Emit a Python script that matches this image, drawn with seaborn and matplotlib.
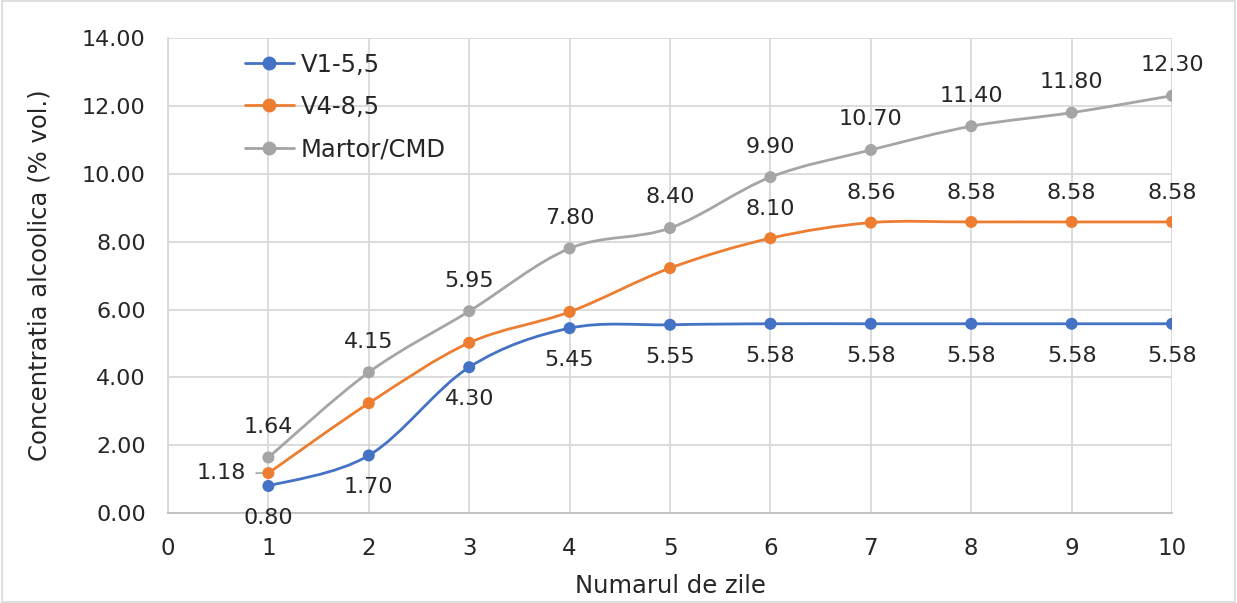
import numpy as np
import pandas as pd
import matplotlib
matplotlib.use("Agg")
import matplotlib.pyplot as plt
import seaborn as sns
from matplotlib.path import Path
from matplotlib.patches import PathPatch, Rectangle
from matplotlib.lines import Line2D

# date: concentratia alcoolica pe zile
zile = [1, 2, 3, 4, 5, 6, 7, 8, 9, 10]
v1 = [0.80, 1.70, 4.30, 5.45, 5.55, 5.58, 5.58, 5.58, 5.58, 5.58]
v4 = [1.18, 3.24, 5.02, 5.93, 7.22, 8.10, 8.56, 8.58, 8.58, 8.58]
martor = [1.64, 4.15, 5.95, 7.80, 8.40, 9.90, 10.70, 11.40, 11.80, 12.30]
serii = ["V1-5,5", "V4-8,5", "Martor/CMD"]
culori = ["#4472C4", "#ED7D31", "#A5A5A5"]

sns.set_style("white")
plt.rcParams["font.family"] = ["DejaVu Sans"]

fig = plt.figure(figsize=(12.37, 6.03), dpi=100)
ax = fig.add_axes([0.1358, 0.149, 0.8117, 0.788])
fig.patches.append(Rectangle((0.002, 0.002), 0.996, 0.996, transform=fig.transFigure,
                             fill=False, edgecolor="#d9d9d9", linewidth=1.2))


def curba(xs, ys):
    # curba netezita ca in Excel (bezier prin puncte)
    p = np.column_stack([xs, ys]).astype(float)
    n = len(p)
    verts = [p[0]]
    codes = [Path.MOVETO]
    for i in range(n - 1):
        p0 = p[i - 1] if i > 0 else p[i]
        p3 = p[i + 2] if i + 2 < n else p[i + 1]
        c1 = p[i] + (p[i + 1] - p0) / 6
        c2 = p[i + 1] - (p3 - p[i]) / 6
        verts += [c1, c2, p[i + 1]]
        codes += [Path.CURVE4] * 3
    return Path(verts, codes)


df = pd.DataFrame({"zi": zile * 3,
                   "val": v1 + v4 + martor,
                   "serie": [serii[0]] * 10 + [serii[1]] * 10 + [serii[2]] * 10})

for s, c in zip(serii, culori):
    d = df[df.serie == s]
    ax.add_patch(PathPatch(curba(d.zi.values, d.val.values), fill=False,
                           edgecolor=c, linewidth=2.0, zorder=3))
sns.scatterplot(data=df, x="zi", y="val", hue="serie", palette=culori, s=75,
                edgecolor="none", legend=False, ax=ax, zorder=4)

fs = 16
txt = "#262626"
for x, y in zip(zile, martor):
    ax.annotate(f"{y:.2f}", (x, y), xytext=(0, 22), textcoords="offset points",
                ha="center", va="center", fontsize=fs, color=txt)
for x, y in zip(zile, v1):
    ax.annotate(f"{y:.2f}", (x, y), xytext=(0, -23), textcoords="offset points",
                ha="center", va="center", fontsize=fs, color=txt)
for x, y in zip(zile, v4):
    if x == 1:
        ax.annotate(f"{y:.2f}", (x, y), xytext=(-34, 0), textcoords="offset points",
                    ha="center", va="center", fontsize=fs, color=txt)
        ax.annotate("", (x - 0.01, y), xytext=(x - 0.15, y),
                    arrowprops=dict(arrowstyle="-", color="#A5A5A5", lw=1.2))
    elif x >= 6:
        ax.annotate(f"{y:.2f}", (x, y), xytext=(0, 21), textcoords="offset points",
                    ha="center", va="center", fontsize=fs, color=txt)

ax.set_xlim(0, 10)
ax.set_ylim(0, 14)
ax.set_xticks(range(0, 11))
ax.set_yticks(np.arange(0, 15, 2))
ax.set_yticklabels([f"{v:.2f}" for v in np.arange(0, 15, 2)])
ax.tick_params(axis="y", labelsize=fs, length=0, pad=16, colors=txt)
ax.tick_params(axis="x", labelsize=16.5, length=0, pad=17, colors=txt)
ax.grid(True, color="#d9d9d9", linewidth=1.3)
ax.set_axisbelow(True)
for sp in ["top", "right"]:
    ax.spines[sp].set_visible(False)
for sp in ["left", "bottom"]:
    ax.spines[sp].set_color("#d9d9d9")
    ax.spines[sp].set_linewidth(1.3)
ax.spines["bottom"].set_color("#bfbfbf")

ax.set_xlabel("Numarul de zile", fontsize=17.5, color=txt, labelpad=10)
ax.set_ylabel("Concentratia alcoolica (% vol.)", fontsize=17.5, color=txt, labelpad=22)

handles = [Line2D([0], [0], color=c, lw=2.0, marker="o", markersize=9) for c in culori]
ax.legend(handles, serii, loc="upper left", bbox_to_anchor=(0.055, 1.015), frameon=False,
          fontsize=17.5, handlelength=2.0, labelspacing=0.75, handletextpad=0.3)

fig.savefig("out.png", dpi=100)
